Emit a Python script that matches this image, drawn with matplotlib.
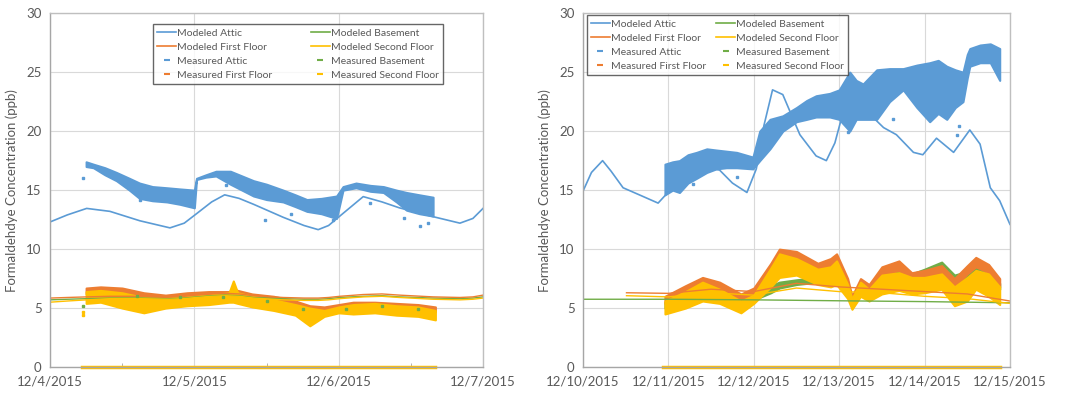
import numpy as np
import pandas as pd
import matplotlib
matplotlib.use('Agg')
import matplotlib.pyplot as plt
from matplotlib.lines import Line2D

plt.rcParams['font.family'] = ['Lato', 'DejaVu Sans']

BLUE = '#5B9BD5'
ORANGE = '#ED7D31'
GREEN = '#70AD47'
YELLOW = '#FFC000'
GRAY_TXT = '#595959'

# ---------------- left panel (days after 12/4/2015) ----------------
l_start = '2015-12-04'
l_mod_t = [0.0, 0.12, 0.254, 0.415, 0.623, 0.831, 0.93, 1.015, 1.12, 1.21, 1.31, 1.41, 1.615,
           1.76, 1.858, 1.93, 2.008, 2.17, 2.3, 2.42, 2.654, 2.84, 2.93, 3.0]
l_mod_attic = [12.3, 12.9, 13.45, 13.2, 12.4, 11.8, 12.2, 13.0, 14.0, 14.6, 14.3, 13.8, 12.7,
               12.0, 11.65, 12.0, 12.8, 14.45, 14.0, 13.5, 12.75, 12.2, 12.6, 13.45]
l_mod_ff = [5.85, 5.9, 5.95, 6.0, 6.0, 5.95, 6.0, 6.1, 6.2, 6.25, 6.2, 6.05, 5.9,
            5.85, 5.85, 5.9, 6.0, 6.15, 6.2, 6.1, 5.95, 5.9, 5.95, 6.1]
l_mod_sf = [5.5, 5.6, 5.7, 5.8, 5.8, 5.75, 5.8, 5.9, 6.0, 6.05, 6.0, 5.85, 5.7,
            5.65, 5.65, 5.7, 5.8, 5.95, 6.0, 5.9, 5.75, 5.7, 5.75, 5.85]
l_mod_bs = [5.7, 5.75, 5.8, 5.85, 5.85, 5.8, 5.85, 5.95, 6.05, 6.1, 6.05, 5.9, 5.8,
            5.75, 5.75, 5.8, 5.9, 6.0, 6.05, 5.95, 5.85, 5.8, 5.85, 5.95]

l_att_t = [0.25, 0.3, 0.38, 0.46, 0.55, 0.62, 0.71, 0.81, 0.9, 1.0, 1.015, 1.08, 1.15, 1.25,
           1.33, 1.41, 1.5, 1.615, 1.7, 1.78, 1.88, 1.985, 2.03, 2.12, 2.22, 2.31, 2.4,
           2.47, 2.56, 2.654]
l_att_hi = [17.4, 17.2, 16.9, 16.5, 16.0, 15.6, 15.3, 15.2, 15.1, 15.0, 16.0, 16.3, 16.6, 16.6,
            16.2, 15.8, 15.5, 15.0, 14.6, 14.2, 14.3, 14.5, 15.3, 15.6, 15.4, 15.3, 15.0,
            14.8, 14.6, 14.4]
l_att_lo = [17.0, 16.9, 16.3, 15.8, 15.0, 14.3, 14.1, 14.0, 13.8, 13.5, 15.9, 16.1, 16.2, 15.5,
            15.0, 14.5, 14.2, 14.0, 13.6, 13.2, 13.0, 12.6, 15.0, 15.2, 14.9, 14.8, 14.0,
            13.3, 13.0, 12.8]
l_att_out_t = [0.23, 0.62, 1.22, 1.49, 1.67, 1.96, 2.22, 2.45, 2.56, 2.62]
l_att_out_v = [16.0, 14.15, 15.4, 12.45, 13.0, 12.45, 13.9, 12.6, 12.0, 12.2]

l_in_t = [0.25, 0.35, 0.5, 0.65, 0.8, 0.95, 1.1, 1.24, 1.27, 1.3, 1.4, 1.55, 1.7, 1.8,
          1.9, 2.0, 2.1, 2.25, 2.4, 2.55, 2.67]
l_ff_hi = [6.7, 6.8, 6.7, 6.3, 6.1, 6.3, 6.4, 6.4, 6.6, 6.5, 6.2, 6.0, 5.6, 5.2,
           5.1, 5.3, 5.5, 5.5, 5.4, 5.3, 5.1]
l_ff_lo = [6.2, 6.4, 6.3, 5.9, 5.7, 5.9, 6.0, 6.0, 6.1, 6.1, 5.8, 5.6, 5.2, 4.8,
           4.7, 4.9, 5.1, 5.1, 5.0, 4.9, 4.7]
l_sf_hi = [6.4, 6.5, 6.3, 5.9, 5.8, 6.0, 6.1, 6.3, 7.3, 6.3, 6.0, 5.7, 5.3, 5.0,
           4.8, 5.1, 5.3, 5.4, 5.2, 5.1, 4.8]
l_sf_lo = [5.4, 5.5, 5.0, 4.6, 5.0, 5.2, 5.3, 5.5, 5.5, 5.4, 5.1, 4.8, 4.4, 3.5,
           4.3, 4.6, 4.5, 4.6, 4.4, 4.3, 4.0]
l_sf_out_t = [0.23, 0.23]
l_sf_out_v = [4.4, 4.7]
l_bs_out_t = [0.23, 0.6, 0.9, 1.2, 1.5, 1.75, 2.05, 2.3, 2.55]
l_bs_out_v = [5.2, 6.0, 5.9, 5.9, 5.6, 4.9, 4.9, 5.2, 4.9]
l_zero_t = [0.22, 2.67]

# ---------------- right panel (days after 12/10/2015) ----------------
r_start = '2015-12-10'
r_mod_t = [0.0, 0.1, 0.23, 0.33, 0.47, 0.66, 0.88, 1.02, 1.25, 1.48, 1.6, 1.75, 1.92,
           2.03, 2.12, 2.22, 2.34, 2.54, 2.73, 2.85, 2.95, 3.05, 3.17, 3.35, 3.52, 3.67,
           3.87, 3.98, 4.14, 4.34, 4.53, 4.65, 4.77, 4.88, 5.0]
r_mod_attic = [14.9, 16.5, 17.5, 16.6, 15.2, 14.6, 13.9, 15.0, 16.5, 16.9, 16.7, 15.6, 14.8,
               16.8, 20.5, 23.5, 23.1, 19.7, 17.9, 17.5, 19.0, 21.7, 23.5, 21.5, 20.3, 19.7,
               18.2, 18.0, 19.4, 18.2, 20.1, 18.9, 15.2, 14.1, 12.1]
r_bs_t = [0.0, 1.0, 2.0, 3.0, 4.0, 5.0]
r_mod_bs = [5.75, 5.75, 5.7, 5.62, 5.55, 5.45]
r_ff_t = [0.51, 1.0, 1.5, 2.0, 2.5, 3.0, 3.5, 4.0, 4.5, 5.0]
r_mod_ff = [6.3, 6.25, 6.6, 6.4, 7.1, 6.8, 6.6, 6.4, 6.2, 5.6]
r_mod_sf = [6.05, 5.95, 6.3, 6.1, 6.7, 6.4, 6.3, 6.0, 5.8, 5.4]

r_att_t = [0.96, 1.05, 1.13, 1.23, 1.33, 1.45, 1.56, 1.68, 1.8, 1.99, 2.07, 2.19, 2.34, 2.5,
           2.62, 2.73, 2.89, 3.0, 3.125, 3.2, 3.28, 3.44, 3.59, 3.75, 3.91, 4.06, 4.16,
           4.26, 4.36, 4.45, 4.5, 4.53, 4.65, 4.77, 4.88]
r_att_hi = [17.2, 17.4, 17.5, 18.0, 18.2, 18.5, 18.4, 18.3, 18.2, 17.8, 20.0, 21.0, 21.3, 22.0,
            22.6, 23.0, 23.2, 23.5, 25.0, 24.3, 24.0, 25.2, 25.3, 25.3, 25.6, 25.8, 26.0,
            25.5, 25.2, 25.0, 26.5, 27.0, 27.3, 27.4, 27.0]
r_att_lo = [14.6, 15.0, 14.8, 15.6, 16.0, 16.5, 16.8, 16.9, 16.9, 16.8, 17.5, 18.5, 20.0, 20.8,
            21.0, 21.2, 21.2, 21.0, 20.0, 21.0, 21.0, 21.0, 22.5, 23.5, 22.0, 20.8, 21.5,
            21.0, 22.0, 22.5, 24.5, 25.5, 25.8, 25.8, 24.3]
r_att_out_t = [1.29, 1.8, 3.1, 3.63, 4.375, 4.4]
r_att_out_v = [15.5, 16.1, 19.9, 21.0, 19.7, 20.4]

r_in_t = [0.96, 1.2, 1.4, 1.6, 1.85, 2.0, 2.2, 2.3, 2.5, 2.75, 2.9, 2.97, 3.1, 3.15,
          3.25, 3.35, 3.5, 3.7, 3.85, 4.0, 4.2, 4.35, 4.5, 4.6, 4.75, 4.88]
r_ff_hi = [6.0, 6.9, 7.6, 7.2, 6.2, 6.7, 8.8, 10.0, 9.8, 8.8, 9.2, 9.6, 7.5, 6.0,
           7.5, 7.0, 8.5, 9.0, 8.0, 8.2, 8.6, 7.5, 8.6, 9.3, 8.7, 7.5]
r_ff_lo = [5.4, 6.2, 6.9, 6.5, 5.5, 6.0, 8.0, 9.2, 9.0, 8.1, 8.4, 8.8, 6.8, 5.4,
           6.8, 6.3, 7.8, 8.2, 7.3, 7.5, 7.9, 6.8, 7.9, 8.5, 8.0, 6.8]
r_sf_hi = [5.6, 6.4, 7.2, 6.6, 5.6, 6.1, 8.4, 9.6, 9.2, 8.3, 8.5, 9.0, 7.0, 5.8,
           7.2, 6.6, 7.8, 8.0, 7.6, 7.6, 7.9, 6.8, 7.6, 8.2, 7.9, 6.8]
r_sf_lo = [4.5, 5.0, 5.6, 5.4, 4.6, 5.4, 6.8, 7.6, 7.8, 7.0, 6.8, 7.0, 5.8, 4.9,
           6.0, 5.6, 6.2, 6.5, 6.2, 6.3, 6.6, 5.2, 5.6, 6.6, 6.0, 5.3]
r_bs_hi = [5.5, 5.8, 6.2, 6.0, 5.6, 6.0, 6.9, 7.2, 7.4, 7.6, 7.4, 7.5, 7.0, 6.0,
           7.0, 6.9, 7.6, 8.1, 7.9, 8.3, 8.9, 7.8, 8.1, 8.6, 8.4, 7.1]
r_bs_lo = [5.0, 5.4, 5.8, 5.7, 5.2, 5.7, 6.3, 6.7, 7.0, 7.2, 7.0, 7.0, 6.5, 5.5,
           6.5, 6.4, 7.0, 7.4, 7.3, 7.6, 8.2, 7.2, 7.4, 8.0, 7.8, 6.6]
r_zero_t = [0.94, 4.88]

x_labels_left = ['12/4/2015', '12/5/2015', '12/6/2015', '12/7/2015']
x_labels_right = ['12/10/2015', '12/11/2015', '12/12/2015', '12/13/2015',
                  '12/14/2015', '12/15/2015']
y_ticks = [0, 5, 10, 15, 20, 25, 30]


def to_dt(start, days):
    return pd.Timestamp(start) + pd.to_timedelta(np.asarray(days), unit='D')


fig = plt.figure(figsize=(10.71, 3.99), dpi=100)
ax1 = fig.add_axes([0.0467, 0.080, 0.4043, 0.887])
ax2 = fig.add_axes([0.5443, 0.080, 0.3987, 0.887])


def style_axes(ax, start, labels, minor):
    n = len(labels)
    ticks = to_dt(start, np.arange(n))
    ax.set_xlim(ticks[0], ticks[-1])
    ax.set_ylim(0, 30)
    ax.set_xticks(ticks)
    ax.set_xticklabels(labels)
    ax.set_yticks(y_ticks)
    ax.grid(True, color='#D9D9D9', linewidth=0.8)
    ax.set_axisbelow(True)
    ax.tick_params(axis='both', length=0, colors=GRAY_TXT, labelsize=9.5, pad=6)
    if minor:
        ax.set_xticks(to_dt(start, np.arange(n - 1) + 0.5), minor=True)
        ax.tick_params(axis='x', which='minor', direction='in', length=3, color='#A6A6A6')
    for s in ['top', 'right']:
        ax.spines[s].set_color('#BFBFBF')
    for s in ['left', 'bottom']:
        ax.spines[s].set_color('#A6A6A6')
    for s in ax.spines.values():
        s.set_linewidth(1.0)
    ax.set_ylabel('Formaldehdye Concentration (ppb)', color=GRAY_TXT, fontsize=9.5, labelpad=6)


def band(ax, start, t, lo, hi, color):
    ax.fill_between(to_dt(start, t), lo, hi, color=color, lw=1.5, ec=color)


def dots(ax, start, t, v, color):
    ax.plot(to_dt(start, t), v, ls='none', marker='s', ms=2, color=color)


# left panel
ax = ax1
band(ax, l_start, l_att_t, l_att_lo, l_att_hi, BLUE)
dots(ax, l_start, l_att_out_t, l_att_out_v, BLUE)
ax.plot(to_dt(l_start, l_mod_t), l_mod_attic, color=BLUE, lw=1.2)
ax.plot(to_dt(l_start, l_mod_t), l_mod_bs, color=GREEN, lw=1.0)
ax.plot(to_dt(l_start, l_mod_t), l_mod_ff, color=ORANGE, lw=1.0)
ax.plot(to_dt(l_start, l_mod_t), l_mod_sf, color=YELLOW, lw=1.0)
band(ax, l_start, l_in_t, l_ff_lo, l_ff_hi, ORANGE)
band(ax, l_start, l_in_t, l_sf_lo, l_sf_hi, YELLOW)
dots(ax, l_start, l_sf_out_t, l_sf_out_v, YELLOW)
dots(ax, l_start, l_bs_out_t, l_bs_out_v, GREEN)
ax.plot(to_dt(l_start, l_zero_t), [0, 0], color=YELLOW, lw=2.5, clip_on=False)
style_axes(ax, l_start, x_labels_left, True)

# right panel
ax = ax2
band(ax, r_start, r_att_t, r_att_lo, r_att_hi, BLUE)
dots(ax, r_start, r_att_out_t, r_att_out_v, BLUE)
ax.plot(to_dt(r_start, r_mod_t), r_mod_attic, color=BLUE, lw=1.2)
ax.plot(to_dt(r_start, r_bs_t), r_mod_bs, color=GREEN, lw=1.0)
band(ax, r_start, r_in_t, r_bs_lo, r_bs_hi, GREEN)
band(ax, r_start, r_in_t, r_ff_lo, r_ff_hi, ORANGE)
band(ax, r_start, r_in_t, r_sf_lo, r_sf_hi, YELLOW)
ax.plot(to_dt(r_start, r_ff_t), r_mod_ff, color=ORANGE, lw=1.0)
ax.plot(to_dt(r_start, r_ff_t), r_mod_sf, color=YELLOW, lw=1.0)
ax.plot(to_dt(r_start, r_zero_t), [0, 0], color=YELLOW, lw=2.5, clip_on=False)
style_axes(ax, r_start, x_labels_right, False)

# legends (column-major order for 2 columns)
handles = [
    Line2D([], [], color=BLUE, lw=1.2, label='Modeled Attic'),
    Line2D([], [], color=ORANGE, lw=1.2, label='Modeled First Floor'),
    Line2D([], [], color=BLUE, ls='none', marker='_', ms=4, mew=1.5, label='Measured Attic'),
    Line2D([], [], color=ORANGE, ls='none', marker='_', ms=4, mew=1.5, label='Measured First Floor'),
    Line2D([], [], color=GREEN, lw=1.2, label='Modeled Basement'),
    Line2D([], [], color=YELLOW, lw=1.2, label='Modeled Second Floor'),
    Line2D([], [], color=GREEN, ls='none', marker='_', ms=4, mew=1.5, label='Measured Basement'),
    Line2D([], [], color=YELLOW, ls='none', marker='_', ms=4, mew=1.5, label='Measured Second Floor'),
]
for ax, anchor, colsp in [(ax1, (0.238, 0.969), 3.7), (ax2, (0.009, 0.994), 1.0)]:
    leg = ax.legend(handles=handles, ncol=2, loc='upper left', bbox_to_anchor=anchor,
                    fontsize=7.5, frameon=True, fancybox=False, handlelength=1.8,
                    handletextpad=0.1, columnspacing=colsp, labelspacing=0.45,
                    borderpad=0.4, borderaxespad=0, labelcolor=GRAY_TXT)
    leg.get_frame().set_edgecolor('#404040')
    leg.get_frame().set_linewidth(1.0)

fig.savefig('out.png', dpi=100)
